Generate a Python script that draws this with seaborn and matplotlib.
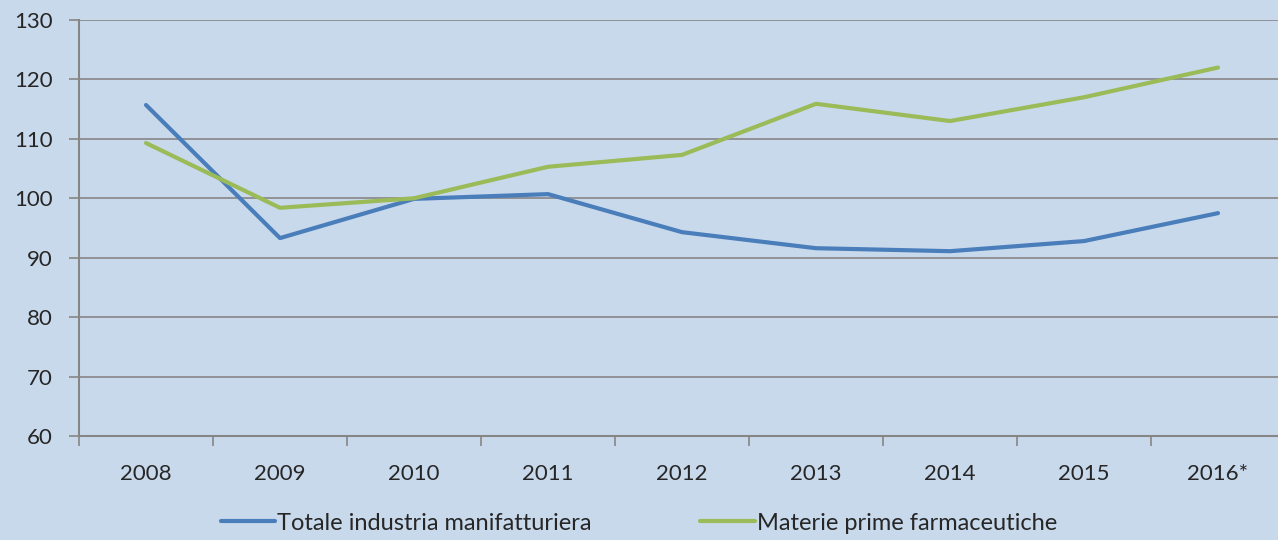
import numpy as np
import pandas as pd
import matplotlib
matplotlib.use("Agg")
import matplotlib.pyplot as plt
import seaborn as sns

years = ["2008", "2009", "2010", "2011", "2012", "2013", "2014", "2015", "2016*"]
totale = [115.7, 93.3, 99.9, 100.7, 94.3, 91.6, 91.1, 92.8, 97.5]
materie = [109.3, 98.4, 100.0, 105.3, 107.3, 115.9, 113.0, 117.0, 122.0]
series_names = ["Totale industria manifatturiera", "Materie prime farmaceutiche"]

df = pd.DataFrame({
    "pos": list(range(len(years))) * 2,
    "valore": totale + materie,
    "serie": [series_names[0]] * len(years) + [series_names[1]] * len(years),
})

bg = "#C9D9EC"
sns.set_style("white")
plt.rcParams["font.family"] = ["Lato", "DejaVu Sans"]

fig = plt.figure(figsize=(12.78, 5.4), dpi=100, facecolor=bg)
ax = fig.add_axes([79 / 1278, 1 - 436 / 540, 1206 / 1278, 416 / 540])
ax.set_facecolor(bg)

sns.lineplot(data=df, x="pos", y="valore", hue="serie", palette=["#4A7EBB", "#9BBB59"],
             linewidth=3, ax=ax, legend=True)
for ln in ax.lines:
    ln.set_solid_capstyle("round")

ax.set_ylim(60, 130)
ax.set_yticks(range(60, 131, 10))
ax.set_xlim(-0.5, 8.5)
ax.set_xticks(range(len(years)))
ax.set_xticklabels(years)
ax.set_xticks(np.arange(-0.5, 9, 1), minor=True)
ax.tick_params(axis="x", which="major", bottom=True, length=0, pad=20, labelsize=16)
ax.tick_params(axis="x", which="minor", bottom=True, length=7, width=1.2, color="#868686", direction="out")
ax.tick_params(axis="y", left=True, length=7, width=1.2, color="#868686", direction="out", labelsize=16, pad=12)
ax.yaxis.grid(True, color="#868686", linewidth=1.2)
ax.set_axisbelow(True)
for s in ["top", "right"]:
    ax.spines[s].set_visible(False)
for s in ["left", "bottom"]:
    ax.spines[s].set_color("#868686")
    ax.spines[s].set_linewidth(1.5)
ax.set_xlabel("")
ax.set_ylabel("")

handles, labels = ax.get_legend_handles_labels()
ax.get_legend().remove()
for h in handles:
    h.set_solid_capstyle("round")
fig.legend(handles, labels, loc="center", bbox_to_anchor=(0.5, 1 - 523 / 540), ncol=2,
           frameon=False, fontsize=17, handlelength=2.3, handletextpad=0.1, columnspacing=4.6)

fig.savefig("out.png", dpi=100, facecolor=bg)
